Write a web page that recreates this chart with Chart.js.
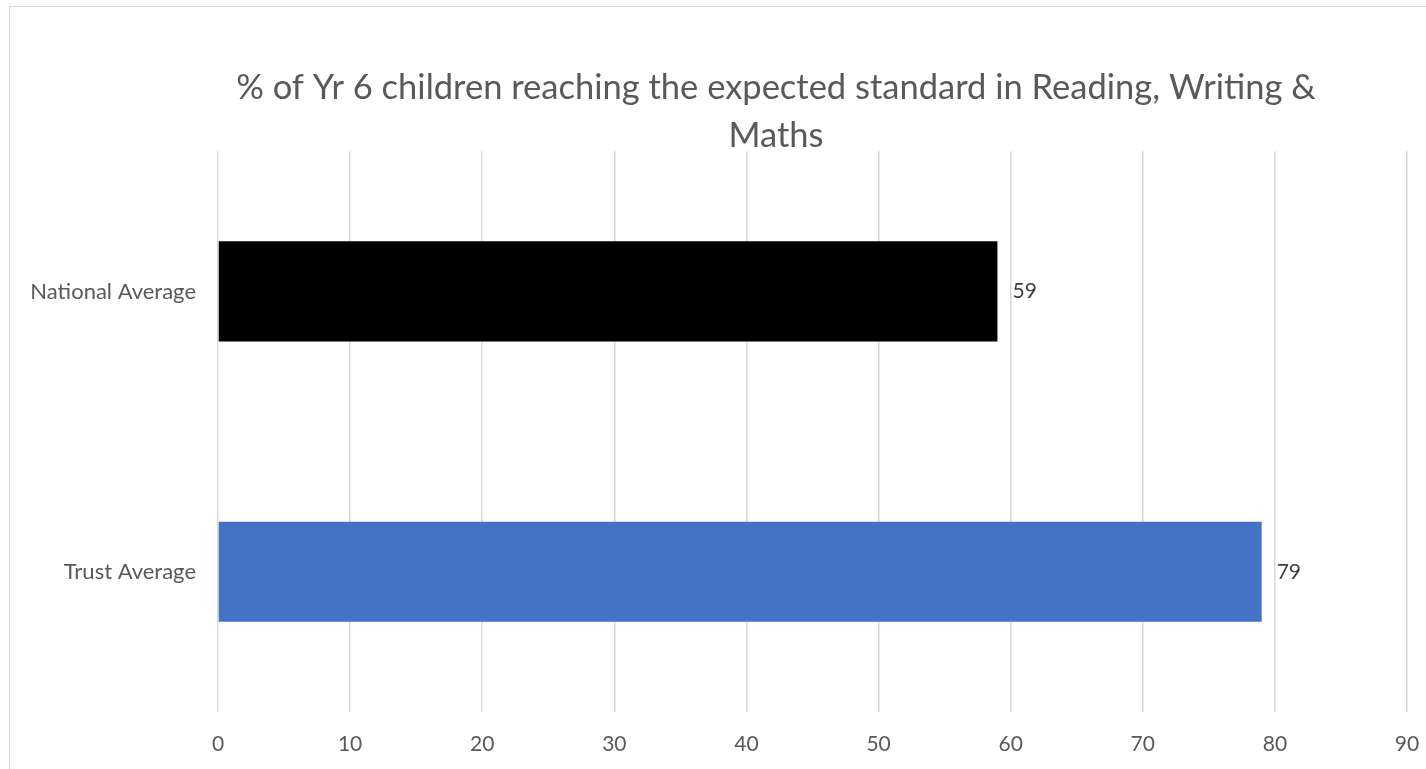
<!DOCTYPE html>
<html>
<head>
<meta charset="utf-8">
<script src="https://cdn.jsdelivr.net/npm/chart.js@4"></script>
<style>
  html, body { margin: 0; padding: 0; background: #fff; overflow: hidden; width: 1426px; height: 769px; }
  #frame { position: absolute; left: 9px; top: 6px; width: 1540px; height: 800px; border: 1.5px solid #d9d9d9; box-sizing: border-box; }
  #wrap { position: absolute; left: 0; top: 0; width: 1552px; height: 769px; }
</style>
</head>
<body>
<div id="frame"></div>
<div id="wrap"><canvas id="c"></canvas></div>
<script>
const titleLines = ["% of Yr 6 children reaching the expected standard in Reading, Writing &", "Maths"];
const categories = ["National Average", "Trust Average"];
const values = [59, 79];
const barColors = ["#000000", "#4472c4"];
const xMin = 0, xMax = 90, xStep = 10;

const FONT = "Lato, 'Open Sans', sans-serif";

const valueLabels = {
  id: 'valueLabels',
  afterDatasetsDraw(chart) {
    const ctx = chart.ctx;
    const meta = chart.getDatasetMeta(0);
    ctx.save();
    ctx.font = "21px " + FONT;
    ctx.fillStyle = "#404040";
    ctx.textAlign = "left";
    ctx.textBaseline = "middle";
    meta.data.forEach((el, i) => {
      ctx.fillText(String(values[i]), el.x + 15, el.y);
    });
    ctx.restore();
  }
};

new Chart(document.getElementById('c'), {
  type: 'bar',
  data: {
    labels: categories,
    datasets: [{
      data: values,
      backgroundColor: barColors,
      borderWidth: 0,
      barPercentage: 0.357,
      categoryPercentage: 1.0
    }]
  },
  options: {
    indexAxis: 'y',
    responsive: true,
    maintainAspectRatio: false,
    animation: false,
    layout: { padding: 0 },
    plugins: {
      legend: { display: false },
      tooltip: { enabled: false },
      title: {
        display: true,
        text: titleLines,
        color: "#595959",
        font: { family: FONT, size: 34.5, weight: 'normal', lineHeight: 1.38 },
        padding: { top: 64, bottom: -8 }
      }
    },
    scales: {
      x: {
        type: 'linear',
        min: xMin, max: xMax,
        ticks: { stepSize: xStep, color: "#595959", font: { family: FONT, size: 21 }, padding: 20 },
        grid: { color: "#d9d9d9", lineWidth: 1.5, drawTicks: false },
        border: { display: false },
        afterFit(scale) { scale.height = 57; scale.paddingLeft = 0; scale.paddingRight = 145; }
      },
      y: {
        ticks: { color: "#595959", font: { family: FONT, size: 22 }, padding: 22 },
        grid: { display: false, drawTicks: false },
        border: { display: false },
        afterFit(scale) { scale.width = 218; }
      }
    }
  },
  plugins: [valueLabels]
});
</script>
</body>
</html>
